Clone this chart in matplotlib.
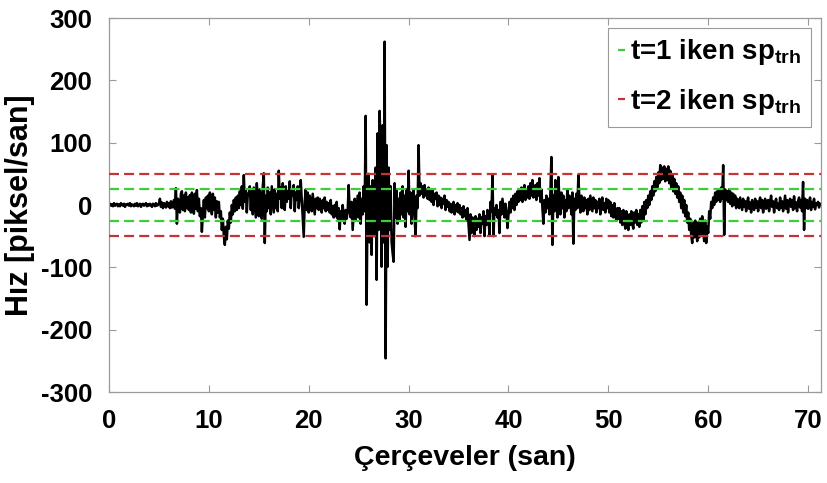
import numpy as np
import matplotlib
matplotlib.use("Agg")
import matplotlib.pyplot as plt

# hız sinyali, 0.1 s aralıkla (her satır 1 saniye)
hiz = [
    0, 2, -1, 1, -2, 3, -1, 0, 2, -2,
    1, -2, 3, 0, -1, 2, -3, 1, 0, 2,
    -1, 3, -2, 1, 0, -2, 2, -1, 3, -2,
    0, 2, -3, 1, 2, -1, 0, 3, -2, 1,
    -1, 2, 0, -3, 2, 1, -2, 3, -1, 0,
    2, 10, -3, 4, -5, 3, 1, -4, 5, -2,
    3, -5, 6, -4, 2, 8, -6, 27, -30, 10,
    5, -12, 18, 22, -8, 15, -10, 20, -5, 12,
    -8, 16, -12, 20, 5, -14, 18, -6, 24, -10,
    10, -18, -5, -43, -15, 8, -20, 12, -5, 15,
    -10, 20, 5, -15, 18, -8, 12, -20, 6, -12,
    5, -20, -10, -40, -22, -50, -64, -35, -55, -25,
    -38, -12, -28, 0, -15, 8, -10, 12, -8, 15,
    -5, 22, 0, 30, -6, 48, 5, 25, -12, 18,
    18, 30, -8, 22, -15, 28, 5, -20, 35, 10,
    -18, 25, 8, -22, 30, 51, -61, 15, -10, 28,
    -5, 20, -15, 30, 8, -12, 25, -5, 18, -10,
    55, 10, 28, -5, 35, 15, -8, 30, 5, 22,
    10, 38, -5, 25, 15, 32, -10, 20, 8, 30,
    -5, 15, 40, 10, -20, -51, 5, 25, -8, 20,
    -12, 15, 5, -10, 18, 2, -15, 10, -5, 12,
    -8, 10, 0, -12, 8, -5, 12, -10, 5, -8,
    3, -12, 8, -15, -2, -20, 0, -18, 5, -22,
    -5, -39, -10, -25, 0, -20, -30, -8, -22, -10,
    32, -10, -20, 5, -40, -15, 10, -25, -5, 15,
    -20, 20, -30, 10, -15, 30, -10, 143, -160, 25,
    50, -60, 30, -80, 40, 20, -50, 60, -120, 115,
    -40, 151, 80, -99, 128, -60, 262, -246, 96, -99,
    60, -40, 30, -60, -77, -91, 35, -20, 25, -30,
    10, -25, 20, -15, 30, -20, 15, -35, 25, -10,
    55, -15, 20, -30, 10, 25, -20, -50, 15, -5,
    96, 15, 35, 18, 30, 12, 32, 15, 25, 10,
    28, 8, 22, 5, 25, 0, 18, 10, 20, -2,
    15, 0, 12, -5, 10, 2, 15, -8, 8, -3,
    5, -10, 2, -12, -2, 5, -15, 0, -10, 3,
    -12, 0, -15, -5, -20, -2, -18, -8, -25, -5,
    -30, -56, -15, -45, -20, -38, -50, -18, -40, -22,
    -35, -15, -45, -20, -30, -10, -50, -18, -32, -8,
    -20, -48, 5, -10, 48, -50, -5, -15, 0, -20,
    -8, -45, 5, -15, 10, -5, -20, 2, -12, -37,
    -15, 5, -12, 10, -5, 15, -8, 18, 0, 22,
    5, 25, 8, 28, 5, 20, 32, 8, 25, 12,
    30, 10, 35, 15, 40, 12, 25, 32, 8, 35,
    15, 43, 5, 25, -5, -30, 8, -12, 15, -5,
    10, -15, 20, 77, -64, 15, -10, 40, 5, -20,
    45, 10, -15, 20, -5, 15, -20, 8, -10, 25,
    -5, 15, 5, -15, 20, -62, 10, -8, 18, -5,
    48, 10, -12, 15, 0, -10, 12, -5, 8, -15,
    10, -8, 15, 2, -10, 12, -5, 8, -12, 5,
    -5, 10, -15, 5, 12, -8, 3, -12, 10, -5,
    8, -12, 5, -18, 0, -20, 3, -15, -25, -5,
    -22, -5, -28, -10, -32, -8, -25, -38, -10, -28,
    -40, -15, -32, -10, -30, -38, -12, -28, -8, -32,
    -15, -35, -8, -28, -2, -25, 5, -15, 8, -5,
    15, 0, 22, 8, 30, 15, 38, 22, 45, 28,
    52, 35, 64, 40, 60, 42, 62, 38, 58, 40,
    62, 35, 55, 28, 48, 22, 42, 18, 35, 12,
    30, 5, 20, -5, 15, -12, 8, -18, 0, -28,
    -12, -40, -22, -48, -61, -28, -52, -25, -45, -58,
    -28, -52, -22, -48, -18, -42, -58, -25, -61, -35,
    -45, -10, -22, 5, -5, 12, 0, 20, 5, 22,
    8, 25, 5, 28, 10, 64, -48, 25, 8, 22,
    5, 25, 2, 20, -2, 18, 0, 15, -5, 10,
    8, -5, 12, 2, -8, 10, -3, 6, -10, 5,
    12, -6, 4, -12, 8, 0, -8, 10, -4, 6,
    -10, 5, 12, -5, 8, -12, 3, 10, -6, 2,
    8, -10, 5, 15, -3, 6, -12, 4, 10, -5,
    2, -8, 12, -4, 6, -10, 3, 15, -6, 8,
    -12, 5, 10, -3, 8, -8, 14, -5, 4, -10,
    6, 12, -4, 8, -10, 37, -40, 10, -5, 8,
    -6, 4, 12, -8, 5, -3, 10, -7, 3, 0,
    5, -4, 2,
]
dt = 0.1
esik1 = 25   # t=1
esik2 = 50   # t=2
xticks = [0, 10, 20, 30, 40, 50, 60, 70]
yticks = [-300, -200, -100, 0, 100, 200, 300]

plt.rcParams['font.family'] = ['Liberation Sans', 'DejaVu Sans']
plt.rcParams['font.weight'] = 'bold'
plt.rcParams['axes.unicode_minus'] = False
plt.rcParams['mathtext.fontset'] = 'custom'
plt.rcParams['mathtext.rm'] = 'Liberation Sans:bold'
plt.rcParams['mathtext.it'] = 'Liberation Sans:bold'
plt.rcParams['mathtext.bf'] = 'Liberation Sans:bold'

t = np.arange(len(hiz)) * dt

fig = plt.figure(figsize=(8.27, 4.83), dpi=100)
ax = fig.add_axes([0.1318, 0.1884, 0.861, 0.7743])

ax.plot(t, hiz, color='black', lw=1.8, zorder=2)

yesil = '#3ccc3c'
kirmizi = '#c43434'
kesik = (0, (4.5, 2.3))
ax.axhline(esik1, color=yesil, ls=kesik, lw=1.6, zorder=3,
           label='t=1 iken sp$_{\\mathregular{trh}}$')
ax.axhline(-esik1, color=yesil, ls=kesik, lw=1.6, zorder=3)
ax.axhline(esik2, color=kirmizi, ls=kesik, lw=1.6, zorder=3,
           label='t=2 iken sp$_{\\mathregular{trh}}$')
ax.axhline(-esik2, color=kirmizi, ls=kesik, lw=1.6, zorder=3)

ax.set_xlim(0, 71.3)
ax.set_ylim(-300, 300)
ax.set_xticks(xticks)
ax.set_yticks(yticks)
ax.tick_params(direction='in', length=5, width=0.8, color='#9a9a9a',
               top=True, right=True, labelsize=18.5)
ax.tick_params(axis='x', pad=12)
ax.tick_params(axis='y', pad=12)
for s in ax.spines.values():
    s.set_color('#9a9a9a')
    s.set_linewidth(0.9)

ax.set_xlabel('Çerçeveler (san)', fontsize=20.5, fontweight='bold', labelpad=9)
ax.set_ylabel('Hız [piksel/san]', fontsize=22, fontweight='bold', labelpad=4)

leg = ax.legend(loc='upper right', fontsize=20, handlelength=0.25,
                handletextpad=0.2, borderaxespad=0.35, fancybox=False,
                framealpha=1, borderpad=0.35, labelspacing=0.7)
leg.get_frame().set_edgecolor('#9a9a9a')
leg.get_frame().set_linewidth(0.8)

fig.savefig('out.png', dpi=100)
